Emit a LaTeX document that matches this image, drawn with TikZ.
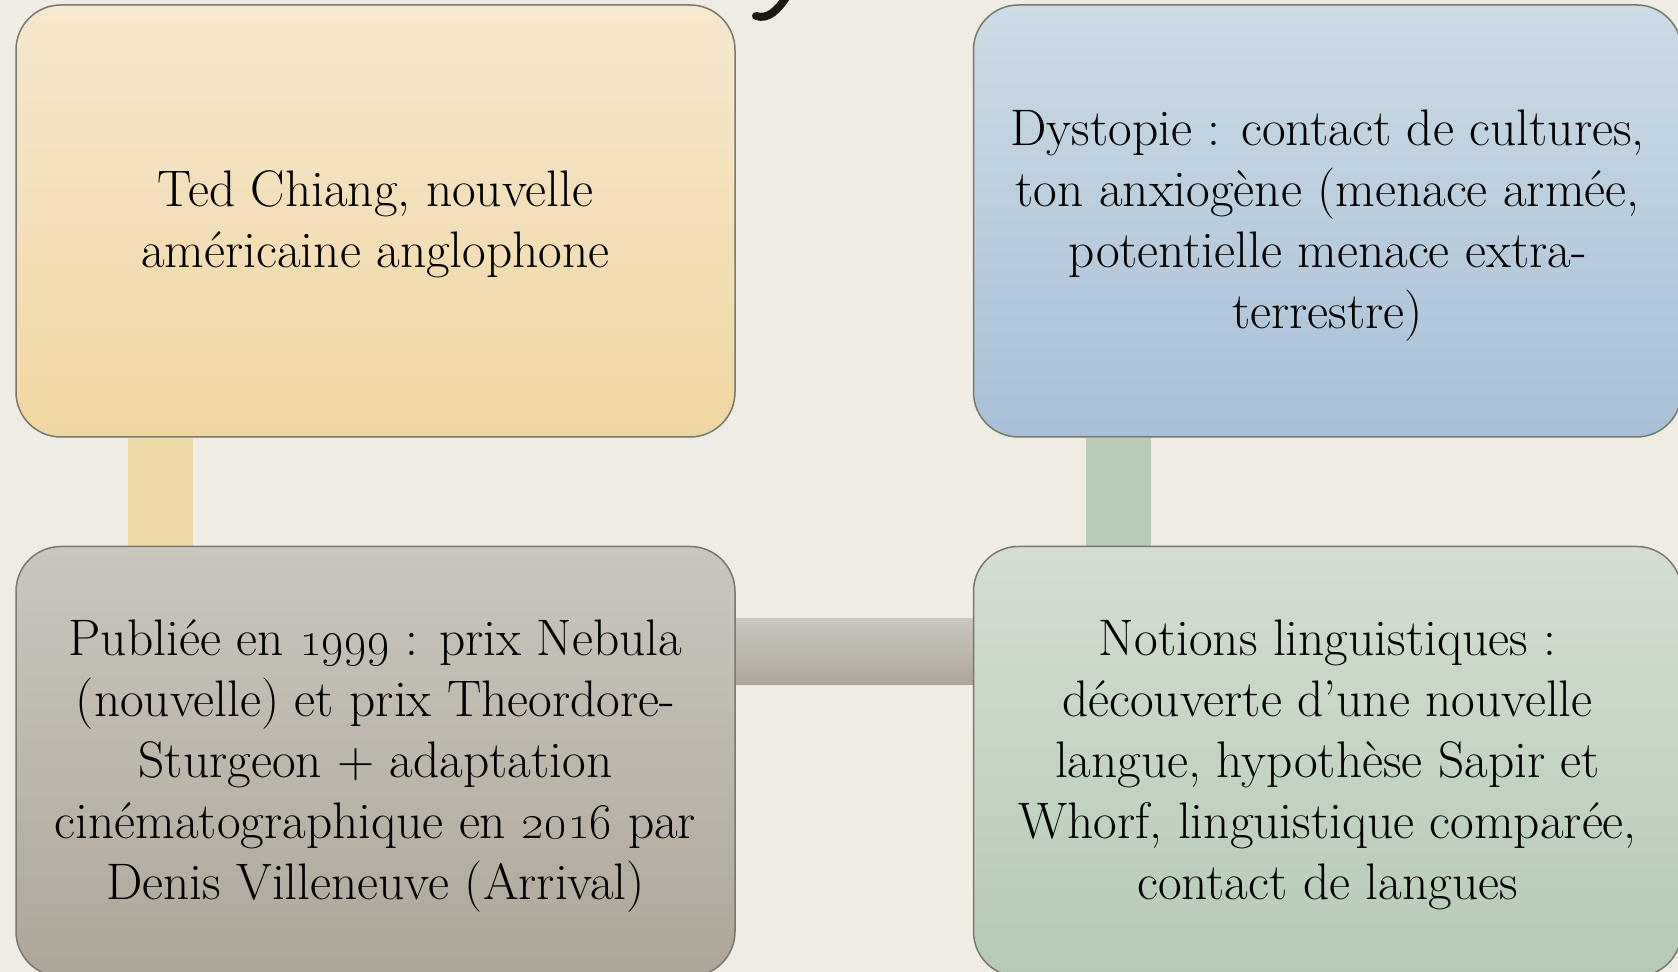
\documentclass[tikz,border=0pt]{standalone}
\usepackage{tikz}
\usetikzlibrary{positioning}
\usetikzlibrary{backgrounds}

\definecolor{pagebg}{RGB}{239,236,228}
\definecolor{edgegray}{RGB}{120,120,110}
\definecolor{goldtop}{RGB}{246,232,206}
\definecolor{goldbot}{RGB}{240,214,162}
\definecolor{bluetop}{RGB}{204,219,228}
\definecolor{bluebot}{RGB}{168,192,215}
\definecolor{taupetop}{RGB}{202,198,190}
\definecolor{taupebot}{RGB}{174,166,153}
\definecolor{sagetop}{RGB}{211,222,208}
\definecolor{sagebot}{RGB}{182,202,182}
\definecolor{goldbar}{RGB}{240,217,168}
\definecolor{sagebar}{RGB}{184,204,183}
\definecolor{inkdark}{RGB}{26,26,20}

\begin{document}
\begin{tikzpicture}[x=0.5pt, y=0.5pt,
	main box/.style={rectangle, rounded corners=22.5pt, draw=edgegray, line width=0.75pt, align=center,
		font=\fontsize{25.7}{30.5}\selectfont, inner sep=0pt, text depth=2pt},
	gold box/.style={main box, top color=goldtop, bottom color=goldbot, minimum width=359.5pt, minimum height=216pt},
	blue box/.style={main box, top color=bluetop, bottom color=bluebot, minimum width=354pt, minimum height=216pt},
	taupe box/.style={main box, top color=taupetop, bottom color=taupebot, minimum width=359.5pt, minimum height=215pt},
	sage box/.style={main box, top color=sagetop, bottom color=sagebot, minimum width=354pt, minimum height=215pt},
	bar/.style={line width=32.5pt},
]
\useasboundingbox (0,0) rectangle (1678,972);
\node [gold box] at (375.5, 751) (Chiang) {Ted Chiang, nouvelle\\am\'ericaine anglophone};
\node [blue box]  (Dystopie) [right=118.5pt of Chiang] {Dystopie : contact de cultures,\\ton anxiog\`ene (menace arm\'ee,\\potentielle menace extra-\\terrestre)};
\node [taupe box] (Publiee) [below=54pt of Chiang] {Publi\'ee en \oldstylenums{1999} : prix Nebula\\(nouvelle) et prix Theordore-\\Sturgeon + adaptation\\cin\'ematographique en \oldstylenums{2016} par\\Denis Villeneuve (Arrival)};
\node [sage box]  (Notions) [right=118.5pt of Publiee] {Notions linguistiques :\\d\'ecouverte d'une nouvelle\\langue, hypoth\`ese Sapir et\\Whorf, linguistique compar\'ee,\\contact de langues};
%
\begin{scope}[on background layer]
\fill [pagebg] (0,0) rectangle (1678,972);
\draw [bar, goldbar] ([xshift=72.75pt]Chiang.south west) -- ([xshift=72.75pt]Publiee.north west);
\draw [bar, sagebar] ([xshift=72.75pt]Dystopie.south west) -- ([xshift=72.75pt]Notions.north west);
\shade [top color=taupetop, bottom color=taupebot] ([yshift=-36.35pt]Publiee.north east) rectangle ([yshift=-69.35pt]Notions.north west);
\end{scope}
\draw [inkdark, line width=4pt, line cap=round] (787,976) .. controls (778,962) and (768,952) .. (756,956);
\end{tikzpicture}
\end{document}
